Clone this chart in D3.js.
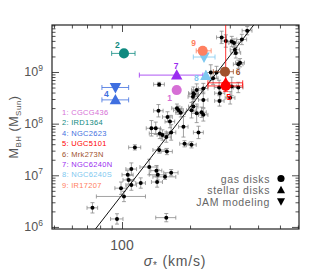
<!DOCTYPE html>
<html>
<head>
<meta charset="utf-8">
<script src="https://cdn.jsdelivr.net/npm/d3@7"></script>
<style>
	body { margin: 0; background: #fff; }
	text { font-family: 'Liberation Sans', Arial, sans-serif; }
</style>
</head>
<body>
<svg id="chart" width="323" height="280"></svg>
<script>

// black comparison sample: sigma (km/s), log MBH, and their errors
let sigma = [358, 276, 306, 313, 339, 288, 316, 319, 333, 327, 262, 247, 253, 306, 327, 269, 214, 229, 207, 271,
	229, 203, 175, 178, 182, 214, 229, 145, 159, 207, 225, 163, 187, 218, 135, 141, 147, 151, 157, 165,
	189, 203, 114, 146, 158, 110, 132, 106, 107, 110, 121, 142, 144, 155, 165, 143, 99, 102, 74, 95,
	157, 146, 208, 206, 270, 301]
let logMbh = [9.80, 9.67, 9.59, 9.56, 9.63, 9.60, 9.43, 9.37, 9.18, 9.15, 8.99, 8.99, 8.88, 8.72, 8.70, 8.70, 8.65, 8.68, 8.59, 8.59,
	8.46, 8.26, 8.30, 8.26, 8.21, 8.20, 8.17, 8.25, 8.13, 8.33, 8.22, 8.04, 7.94, 7.83, 7.91, 7.91, 7.81, 7.78, 7.74, 7.83,
	7.61, 7.59, 7.54, 7.49, 7.46, 7.12, 7.16, 7.01, 6.91, 6.81, 6.85, 7.09, 7.01, 6.97, 7.05, 6.87, 6.75, 6.59, 6.37, 6.155,
	6.18, 8.76, 8.57, 8.52, 8.44, 8.50]
let sigmaErr = [18, 14, 15, 16, 17, 14, 15, 16, 15, 16, 13, 12, 13, 15, 16, 13, 11, 11, 10, 14,
	11, 10, 9, 9, 9, 11, 11, 7, 8, 10, 11, 8, 9, 11, 7, 7, 15, 8, 8, 8,
	9, 10, 7, 9, 9, 6, 12, 6, 6, 6, 6, 8, 12, 18, 12, 8, 6, 25, 4, 6,
	16, 8, 10, 10, 13, 15]
let logMbhErr = [0.08, 0.12, 0.10, 0.08, 0.10, 0.12, 0.09, 0.10, 0.08, 0.08, 0.12, 0.15, 0.12, 0.18, 0.10, 0.14, 0.12, 0.10, 0.12, 0.12,
	0.15, 0.15, 0.08, 0.08, 0.08, 0.18, 0.12, 0.12, 0.10, 0.10, 0.10, 0.12, 0.20, 0.12, 0.15, 0.12, 0.10, 0.10, 0.10, 0.15,
	0.06, 0.06, 0.05, 0.06, 0.06, 0.12, 0.15, 0.08, 0.08, 0.10, 0.10, 0.10, 0.10, 0.05, 0.06, 0.10, 0.12, 0.10, 0.10, 0.10,
	0.08, 0.04, 0.08, 0.10, 0.10, 0.12]

// M-sigma fit: log M = a + b log(sigma/200)
let fitA = 8.32
let fitB = 5.64

// highlighted galaxies
let galaxyIds = [1, 2, 4, 5, 6, 7, 8, 9]
let galaxyNames = ['CGCG436', 'IRD1364', 'NGC2623', 'UGC5101', 'Mrk273N', 'NGC6240N', 'NGC6240S', 'IR17207']
let galaxyColors = ['#d66fd6', '#0f8a80', '#3f6fe0', '#ff0000', '#a0522d', '#9a2cf0', '#7ec8f0', '#ff8060']

let markId = [1, 2, 4, 4, 5, 5, 6, 7, 8, 8, 9]
let markMethod = ['gas', 'gas', 'jam', 'stellar', 'stellar', 'gas', 'gas', 'stellar', 'stellar', 'jam', 'gas']
let markSigma = [174.6, 102, 93.5, 93.5, 287.6, 287.6, 285.6, 174.6, 235, 230.6, 227.5]
let markLogM = [8.65, 9.36, 8.70, 8.46, 8.79, 8.73, 9.006, 8.94, 8.93, 9.29, 9.41]
let markSigLo = [null, 90, 81.5, 81.5, 240, 240, 253.6, 119.3, null, 206.8, 213]
let markSigHi = [null, 114.2, 107, 107, 342, 342, 311, 228, null, 258, 248]
let markLogMLo = [null, null, null, null, null, 8.62, null, null, null, null, null]
let markLogMHi = [null, null, null, null, null, 10.3, null, null, null, null, null]

let legendMethods = ['gas disks', 'stellar disks', 'JAM modeling']
let methodKeys = ['gas', 'stellar', 'jam']

let yMajor = [1e6, 1e7, 1e8, 1e9]
let xMajor = [100]

// layout
let frameL = 52, frameR = 299, frameT = 25, frameB = 229
let labelOffset = {1: [-7, 7.5], 2: [-6.5, -8.5], 4: [-9, 6.5], 5: [3, 14], 6: [13, 0.5], 7: [-0.5, -9.5], 8: [-9.5, 2], 9: [-9, -8]}

let svg = d3.select('#chart')

let x = d3.scaleLog()
	.domain([49, 607])
	.range([frameL, frameR])

let y = d3.scaleLog()
	.domain([Math.pow(10, 5.96), Math.pow(10, 9.91)])
	.range([frameB, frameT])

let ym = v => y(Math.pow(10, v))

let colorOf = id => galaxyColors[galaxyIds.indexOf(id)]

svg.append('defs')
	.append('clipPath')
	.attr('id', 'frame-clip')
	.append('rect')
	.attr('x', frameL)
	.attr('y', frameT)
	.attr('width', frameR - frameL)
	.attr('height', frameB - frameT)

// axes, ticks pointing inward on all four sides
let yMinor = []
d3.range(5, 10).forEach(e => d3.range(2, 10).forEach(k => {
	let v = k * Math.pow(10, e)
	if(v > y.domain()[0] && v < y.domain()[1]) yMinor.push(v)
}))
let xMinor = [50, 60, 70, 80, 90, 200, 300, 400, 500, 600]

let axisGroup = svg.append('g')
	.attr('class', 'axes')

let addAxis = (axisFn, scale, values, size, tx, ty) => {
	axisGroup.append('g')
		.attr('transform', `translate(${tx},${ty})`)
		.call(axisFn(scale).tickValues(values).tickSize(size).tickFormat(''))
}

addAxis(d3.axisLeft, y, yMajor, -7, frameL, 0)
addAxis(d3.axisLeft, y, yMinor, -3.5, frameL, 0)
addAxis(d3.axisRight, y, yMajor, -7, frameR, 0)
addAxis(d3.axisRight, y, yMinor, -3.5, frameR, 0)
addAxis(d3.axisBottom, x, xMajor, -7, 0, frameB)
addAxis(d3.axisBottom, x, xMinor, -3.5, 0, frameB)
addAxis(d3.axisTop, x, xMajor, -7, 0, frameT)
addAxis(d3.axisTop, x, xMinor, -3.5, 0, frameT)

axisGroup.selectAll('.domain').remove()
axisGroup.selectAll('line')
	.attr('stroke', '#222')
	.attr('stroke-width', 0.8)

svg.append('rect')
	.attr('x', frameL)
	.attr('y', frameT)
	.attr('width', frameR - frameL)
	.attr('height', frameB - frameT)
	.attr('fill', 'none')
	.attr('stroke', '#222')
	.attr('stroke-width', 1.2)

// tick labels
let yLabels = svg.append('g')
	.selectAll('text')
	.data(yMajor)
	.enter()
	.append('text')
	.attr('x', 43)
	.attr('y', d => y(d) + 4.5)
	.attr('text-anchor', 'end')
	.attr('fill', '#555')
	.style('font-size', '12.5px')

yLabels.append('tspan').text('10')
yLabels.append('tspan')
	.text(d => Math.round(Math.log10(d)))
	.attr('dy', -5.5)
	.style('font-size', '8.5px')

svg.append('g')
	.selectAll('text')
	.data(xMajor)
	.enter()
	.append('text')
	.attr('x', d => x(d))
	.attr('y', 250)
	.attr('text-anchor', 'middle')
	.attr('fill', '#555')
	.style('font-size', '14px')
	.text(d => d)

// axis titles
let xTitle = svg.append('text')
	.attr('x', 175)
	.attr('y', 266)
	.attr('text-anchor', 'middle')
	.attr('fill', '#555')
	.style('font-size', '14px')
	.style('letter-spacing', '0.8px')
xTitle.append('tspan').text('σ').style('font-style', 'italic')
xTitle.append('tspan').text('*').attr('dy', 3).style('font-size', '10px')
xTitle.append('tspan').text(' (km/s)').attr('dy', -3)

let yTitle = svg.append('text')
	.attr('transform', 'translate(18,127) rotate(-90)')
	.attr('text-anchor', 'middle')
	.attr('fill', '#555')
	.style('font-size', '12.5px')
	.style('letter-spacing', '0.5px')
yTitle.append('tspan').text('M')
yTitle.append('tspan').text('BH').attr('dy', 3).style('font-size', '8px')
yTitle.append('tspan').text('  (M').attr('dy', -3)
yTitle.append('tspan').text('Sun').attr('dy', 3).style('font-size', '8px')
yTitle.append('tspan').text(')').attr('dy', -3)

// data area
let plot = svg.append('g')
	.attr('clip-path', 'url(#frame-clip)')

let drawErr = (g, x1, y1, x2, y2, color, cap, horizontal) => {
	g.append('line')
		.attr('x1', x1).attr('y1', y1).attr('x2', x2).attr('y2', y2)
		.attr('stroke', color).attr('stroke-width', 0.8)
	let ends = horizontal ? [x1, x2] : [y1, y2]
	ends.forEach(e => {
		g.append('line')
			.attr('x1', horizontal ? e : x1 - cap)
			.attr('x2', horizontal ? e : x1 + cap)
			.attr('y1', horizontal ? y1 - cap : e)
			.attr('y2', horizontal ? y1 + cap : e)
			.attr('stroke', color).attr('stroke-width', 0.8)
	})
}

let blackPoints = sigma.map((s, i) => ({
	s : s,
	m : logMbh[i],
	se : sigmaErr[i],
	me : logMbhErr[i]
}))

let errGroup = plot.append('g')
	.attr('class', 'err')

blackPoints.forEach(d => {
	drawErr(errGroup, x(d.s - d.se), ym(d.m), x(d.s + d.se), ym(d.m), '#8a8a8a', 2, true)
	drawErr(errGroup, x(d.s), ym(d.m - d.me), x(d.s), ym(d.m + d.me), '#8a8a8a', 2, false)
})

// fit line
let fitLine = d3.line()
	.x(d => x(d))
	.y(d => ym(fitA + fitB * Math.log10(d / 200)))

plot.append('path')
	.attr('d', fitLine([60, 700]))
	.attr('stroke', '#111')
	.attr('stroke-width', 1)
	.attr('fill', 'none')

plot.append('g')
	.selectAll('circle')
	.data(blackPoints)
	.enter()
	.append('circle')
	.attr('cx', d => x(d.s))
	.attr('cy', d => ym(d.m))
	.attr('r', 2)
	.attr('fill', '#000')

// highlighted galaxies
let marks = markId.map((id, i) => ({
	id : id,
	method : markMethod[i],
	s : markSigma[i],
	m : markLogM[i],
	sLo : markSigLo[i],
	sHi : markSigHi[i],
	mLo : markLogMLo[i],
	mHi : markLogMHi[i]
}))

let shapePath = (method, size) => {
	if(method === 'gas') return d3.symbol().type(d3.symbolCircle).size(size)()
	let h = Math.sqrt(size) * 1.1
	return method === 'stellar'
		? `M0,${-h * 0.6}L${h * 0.58},${h * 0.45}L${-h * 0.58},${h * 0.45}Z`
		: `M0,${h * 0.6}L${h * 0.58},${-h * 0.45}L${-h * 0.58},${-h * 0.45}Z`
}

let markGroup = plot.append('g')
	.attr('class', 'marks')

marks.forEach(d => {
	let c = colorOf(d.id)
	if(d.sLo) drawErr(markGroup, x(d.sLo), ym(d.m), x(d.sHi), ym(d.m), c, 2.5, true)
	if(d.mLo) drawErr(markGroup, x(d.s), ym(d.mLo), x(d.s), ym(d.mHi), c, 2.5, false)
})

markGroup.selectAll('path.mark')
	.data(marks)
	.enter()
	.append('path')
	.attr('class', 'mark')
	.attr('transform', d => `translate(${x(d.s)},${ym(d.m)})`)
	.attr('d', d => shapePath(d.method, 80))
	.attr('fill', d => colorOf(d.id))

// number labels next to markers
let labelAt = galaxyIds.map(id => {
	let d = marks.find(m => m.id === id)
	return {id : id, x : x(d.s) + labelOffset[id][0], y : ym(d.m) + labelOffset[id][1]}
})

svg.append('g')
	.selectAll('text')
	.data(labelAt)
	.enter()
	.append('text')
	.attr('x', d => d.x)
	.attr('y', d => d.y + 3)
	.attr('text-anchor', 'middle')
	.attr('fill', d => colorOf(d.id))
	.style('font-size', '8.5px')
	.style('font-weight', 'bold')
	.text(d => d.id)

// name legend
svg.append('g')
	.selectAll('text')
	.data(galaxyIds)
	.enter()
	.append('text')
	.attr('x', 62)
	.attr('y', (d, i) => 115 + i * 10.4)
	.attr('fill', d => colorOf(d))
	.style('font-size', '7.5px')
	.style('letter-spacing', '0.3px')
	.text((d, i) => `${d}: ${galaxyNames[i]}`)

// method legend
let methodLegend = svg.append('g')
	.selectAll('g')
	.data(legendMethods)
	.enter()
	.append('g')
	.attr('transform', (d, i) => `translate(0,${178.5 + i * 11.5})`)

methodLegend.append('text')
	.attr('x', 270)
	.attr('y', 4)
	.attr('text-anchor', 'end')
	.attr('fill', '#666')
	.style('font-size', '10.5px')
	.style('letter-spacing', '0.6px')
	.text(d => d)

methodLegend.append('path')
	.attr('transform', 'translate(281,0)')
	.attr('d', (d, i) => shapePath(methodKeys[i], 40))
	.attr('fill', '#000')

</script>
</body>
</html>
